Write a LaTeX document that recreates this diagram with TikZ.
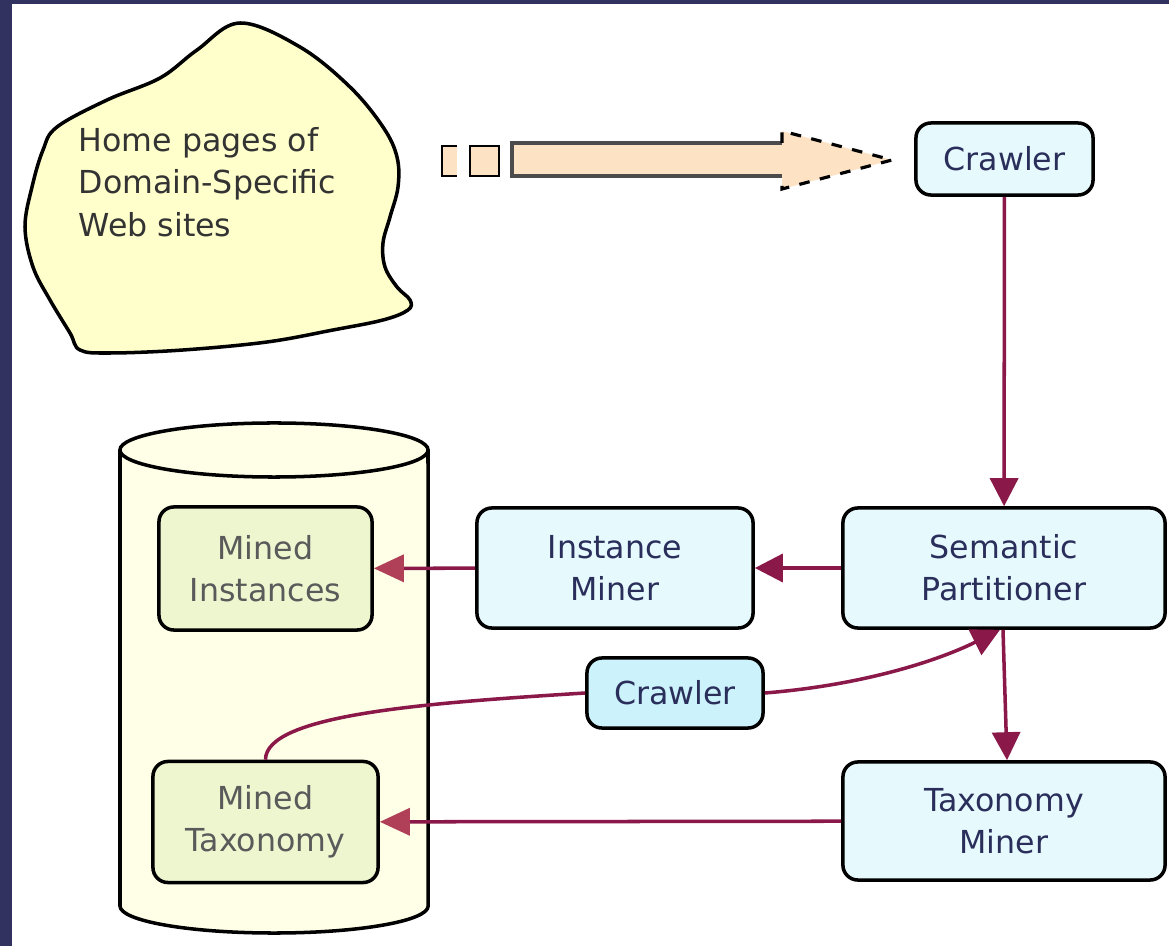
\documentclass[tikz,border=0pt]{standalone}
\usepackage{fontspec}
\setmainfont{DejaVu Sans}
\usetikzlibrary{arrows.meta}
\definecolor{frame}{RGB}{50,50,96}
\definecolor{procfill}{RGB}{230,249,253}
\definecolor{crawlfill}{RGB}{204,243,252}
\definecolor{storefill}{RGB}{238,246,208}
\definecolor{cylfill}{RGB}{255,255,232}
\definecolor{cloudfill}{RGB}{255,255,204}
\definecolor{peach}{RGB}{253,226,196}
\definecolor{flowred}{RGB}{138,24,72}
\definecolor{flowpink}{RGB}{176,64,88}
\definecolor{proctext}{RGB}{42,46,90}
\definecolor{storetext}{RGB}{90,90,90}
\begin{document}
\begin{tikzpicture}[x=0.01cm,y=-0.01cm,
	every node/.style={font=\fontsize{9pt}{12pt}\selectfont,align=center},
	proc/.style={draw,line width=1pt,rounded corners=0.15cm,fill=procfill,text=proctext,inner sep=0pt},
	store/.style={draw,line width=1pt,rounded corners=0.15cm,fill=storefill,text=storetext,inner sep=0pt},
	flow/.style={draw=flowred,line width=1pt,-{Triangle[length=0.28cm,width=0.28cm]}},
	flowlight/.style={flow,-{Triangle[length=0.3cm,width=0.27cm,color=flowpink]}},
	link/.style={draw=flowred,line width=1pt}]
\useasboundingbox (0,0) rectangle (1169,946);
\fill [frame] (0,0) rectangle (1169,946);
\fill [white] (12,4) rectangle (1169,946);
\filldraw [fill=cloudfill,line width=1pt] plot [smooth cycle,tension=0.6] coordinates {(240,23) (300,47) (350,87) (383,127) (397,157) (398,187) (390,217) (383,243) (385,267) (397,287) (410,300) (408,310) (383,320) (333,330) (267,342) (183,350) (110,353) (80,350) (70,333) (50,300) (33,267) (25,227) (32,187) (43,150) (57,127) (107,100) (160,78) (197,50)};
\node [anchor=north west,align=left,inner sep=0pt,text=black!80] (homepages) at (78,127) {Home pages of\\Domain-Specific\\Web sites};
\draw [fill=peach,line width=0.8pt] (457,146) -- (442,146) -- (442,176) -- (457,176);
\draw [fill=peach,line width=0.8pt] (470,146) rectangle (499,176);
\fill [peach] (512,143) rectangle (782,176);
\draw [line width=1pt,black!70] (782,143) -- (512,143) -- (512,176) -- (782,176);
\fill [peach] (782,131) -- (892,160) -- (782,189) -- cycle;
\draw [dashed,line width=0.9pt] (782,143) -- (782,131) -- (892,160) -- (782,189) -- (782,176);
\fill [cylfill] (120,450) -- (120,906) arc [start angle=180,end angle=360,x radius=1.54cm,y radius=0.27cm] -- (428,450) -- cycle;
\draw [line width=1pt] (120,450) -- (120,906) arc [start angle=180,end angle=360,x radius=1.54cm,y radius=0.27cm] -- (428,450);
\draw [line width=1pt,fill=cylfill] (274,450) ellipse [x radius=1.54cm,y radius=0.27cm];
\node [proc,minimum width=1.77cm,minimum height=0.72cm] (crawltop) at (1004.5,159) {Crawler};
\node [proc,minimum width=3.22cm,minimum height=1.2cm] (sempart) at (1004,568) {Semantic\\Partitioner};
\node [proc,minimum width=3.22cm,minimum height=1.18cm] (taxminer) at (1004,821) {Taxonomy\\Miner};
\node [proc,minimum width=2.76cm,minimum height=1.2cm] (instminer) at (615,568) {Instance\\Miner};
\node [proc,fill=crawlfill,minimum width=1.76cm,minimum height=0.7cm] (crawlmid) at (675,693) {Crawler};
\node [store,minimum width=2.13cm,minimum height=1.23cm] (minst) at (265.5,568.5) {Mined\\Instances};
\node [store,minimum width=2.25cm,minimum height=1.21cm] (mtax) at (265.5,822) {Mined\\Taxonomy};
\draw [flow] (crawltop) -- (sempart);
\draw [flow] (sempart) -- (instminer);
\draw [flowlight] (instminer) -- (minst);
\draw [flowlight] (taxminer) -- (mtax);
\draw [flow] ([xshift=-0.01cm]sempart.south) -- ([xshift=0.03cm]taxminer.north);
\draw [link] (mtax.north) .. controls +(0,-45) and +(-160,10) .. (crawlmid.west);
\draw [flow] (crawlmid.east) .. controls +(100,-8) and +(-60,30) .. ([xshift=-0.04cm]sempart.south);
\end{tikzpicture}
\end{document}
